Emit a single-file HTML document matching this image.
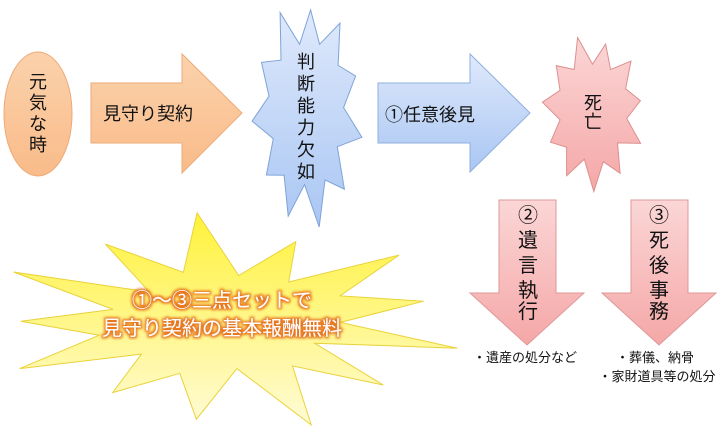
<!DOCTYPE html>
<html><head><meta charset="utf-8"><style>
body{margin:0;background:#fff;width:722px;height:427px;overflow:hidden;font-family:"Liberation Sans","Noto Sans CJK JP",sans-serif;}
svg text{font-family:"Liberation Sans","Noto Sans CJK JP",sans-serif;}
</style></head><body>
<svg id="s" width="722" height="427" viewBox="0 0 722 427" xmlns="http://www.w3.org/2000/svg">
<defs>
<linearGradient id="og" x1="0" y1="0" x2="0" y2="1"><stop offset="0" stop-color="#fbd2ac"/><stop offset="1" stop-color="#f9bb89"/></linearGradient>
<linearGradient id="bg" x1="0" y1="0" x2="0" y2="1"><stop offset="0" stop-color="#dfe9fb"/><stop offset="1" stop-color="#a9c6f3"/></linearGradient>
<linearGradient id="pg" x1="0" y1="0" x2="0" y2="1"><stop offset="0" stop-color="#fbd6d6"/><stop offset="1" stop-color="#f5a7a7"/></linearGradient>
<linearGradient id="yg" x1="0" y1="0" x2="0" y2="1"><stop offset="0" stop-color="#fff23a"/><stop offset="1" stop-color="#fffbd6"/></linearGradient>
<filter id="glow"><feMorphology operator="dilate" radius="1.5" in="SourceAlpha" result="d"/><feGaussianBlur in="d" stdDeviation="1.2" result="b"/><feFlood flood-color="#e8781e"/><feComposite in2="b" operator="in" result="c"/><feMerge><feMergeNode in="c"/><feMergeNode in="SourceGraphic"/></feMerge></filter>
</defs>
<ellipse cx="38" cy="114" rx="34" ry="62" fill="url(#og)" stroke="#eeaa77" stroke-width="1"/>
<polygon points="91,83 182,83 182,54 242,113 182,173 182,143 91,143" fill="url(#og)" stroke="#eeaa77"/>
<polygon points="378,83 470,83 470,54 530,113 470,172 470,143 378,143" fill="url(#bg)" stroke="#8fb0dd"/>
<polygon points="499,200 556,200 556,293 584,293 527,345 470,293 499,293" fill="url(#pg)" stroke="#dd9999"/>
<polygon points="631,200 688,200 688,293 716,293 659,345 602,293 631,293" fill="url(#pg)" stroke="#dd9999"/>
<polygon id="blue" fill="url(#bg)" stroke="#7fa3d8"/>
<polygon id="pink" fill="url(#pg)" stroke="#dd8f8f"/>
<polygon id="yel" fill="url(#yg)" stroke="#e9d23a"/>
<g font-size="18" fill="#111" text-anchor="middle">
<text x="38" y="88">元</text><text x="38" y="109">気</text><text x="38" y="130">な</text><text x="38" y="151">時</text>
<text x="148" y="120">見守り契約</text>
<text x="306" y="68">判</text><text x="306" y="90">断</text><text x="306" y="112">能</text><text x="306" y="134">力</text><text x="306" y="156">欠</text><text x="306" y="178">如</text>
<text x="430" y="121">①任意後見</text>
<text x="593" y="109">死</text><text x="593" y="128">亡</text>
<text x="528" y="222" font-size="20">②</text><text x="528" y="247" font-size="20">遺</text><text x="528" y="272" font-size="20">言</text><text x="528" y="297" font-size="20">執</text><text x="528" y="318" font-size="20">行</text>
<text x="659" y="222" font-size="20">③</text><text x="659" y="247" font-size="20">死</text><text x="659" y="272" font-size="20">後</text><text x="659" y="297" font-size="20">事</text><text x="659" y="318" font-size="20">務</text>
<text x="525" y="362" font-size="13">・遺産の処分など</text>
<text x="655" y="362" font-size="13">・葬儀、納骨</text>
<text x="657" y="381" font-size="13">・家財道具等の処分</text>
</g>
<g font-size="20" fill="#fff" text-anchor="middle" filter="url(#glow)">
<text x="222" y="307">①～③三点セットで</text>
<text x="222" y="335">見守り契約の基本報酬無料</text>
</g>
</svg>
<script>
function star(id,cx,cy,rx,ry,n,inner,rot,jit){var p=[];for(var i=0;i<2*n;i++){var a=rot+Math.PI*i/n;var r=(i%2?inner:1)*(1+(jit?((i*37)%7-3)*jit:0));p.push((cx+rx*r*Math.cos(a)).toFixed(1)+","+(cy+ry*r*Math.sin(a)).toFixed(1));}document.getElementById(id).setAttribute("points",p.join(" "));}
star("blue",307,113,54,110,11,0.68,-1.5,0.02);
star("pink",593,112,50,75,11,0.68,-1.3,0.02);
star("yel",225,322,222,98,13,0.52,-1.2,0.04);
</script>
</body></html>
